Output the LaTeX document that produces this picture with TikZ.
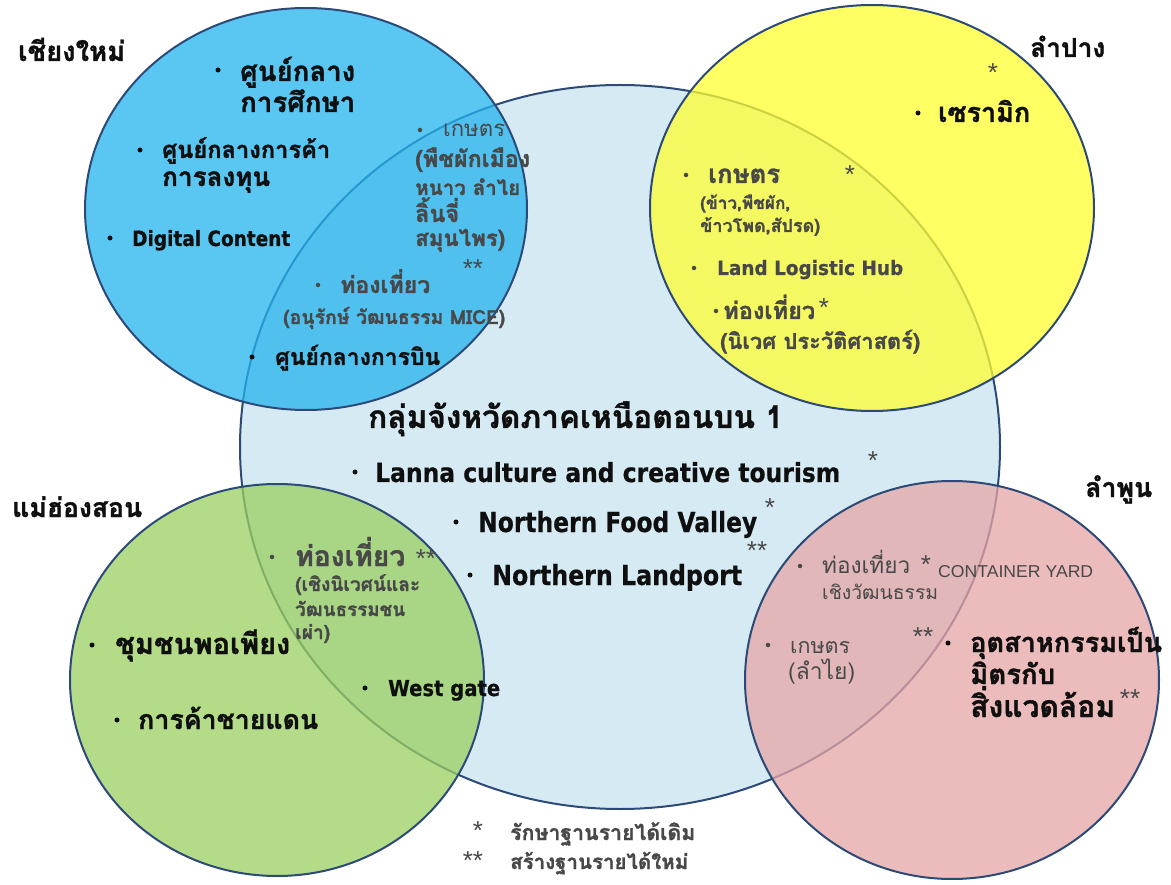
\documentclass[tikz,border=0pt]{standalone}
\usepackage{graphicx}
\usepackage{fontspec}
\newfontfamily\thai[Script=Thai, BoldFeatures={FakeBold=1.2}]{Loma}
\newfontfamily\eng[BoldFeatures={FakeBold=0.6}]{DejaVu Sans}
\newfontfamily\arial{Liberation Sans}
\definecolor{edge}{RGB}{44,74,120}
\definecolor{cfill}{RGB}{214,234,244}
\definecolor{bfill}{RGB}{36,179,238}
\definecolor{yfill}{RGB}{255,255,48}
\definecolor{gfill}{RGB}{155,208,96}
\definecolor{pfill}{RGB}{230,166,166}
\definecolor{tblack}{RGB}{15,15,15}
\definecolor{tgrey}{RGB}{72,72,72}
\newcommand\fw[2]{\resizebox{#1pt}{!}{#2}}
\newcommand\fwh[3]{\resizebox{#1pt}{#2pt}{#3}}
\tikzset{
  ring/.style={draw=edge, line width=2pt},
  outer/.style={ring, fill opacity=0.75, draw opacity=1},
  lab/.style={inner sep=0pt, anchor=base west, text=tblack},
  tb/.style={lab, font=\thai\bfseries},
  tg/.style={lab, font=\thai\bfseries, text=tgrey},
  tgr/.style={lab, font=\thai, text=tgrey},
  eb/.style={lab, font=\eng\bfseries},
  egr/.style={lab, font=\eng\bfseries, text=tgrey},
  bul/.style={circle, fill=tblack, inner sep=0pt, minimum size=5pt},
  gbul/.style={circle, fill=tgrey, inner sep=0pt, minimum size=4.5pt},
  star/.style={inner sep=0pt, anchor=north, text=tgrey, font=\arial\fontsize{26}{26}\selectfont}
}
\begin{document}
\begin{tikzpicture}[x=1pt,y=-1pt]
\useasboundingbox (0,0) rectangle (1171,885);
\fill[white] (0,0) rectangle (1171,885);
% circles
\coordinate (cc) at (620,447);
\coordinate (cb) at (306,209);
\coordinate (cy) at (872,208);
\coordinate (cg) at (277,680);
\coordinate (cp) at (952,680);
\draw[ring, fill=cfill] (cc) ellipse [x radius=380pt, y radius=362pt];
\draw[outer, fill=bfill] (cb) ellipse [x radius=221pt, y radius=201pt];
\draw[outer, fill=yfill] (cy) ellipse [x radius=222pt, y radius=203pt];
\draw[outer, fill=gfill] (cg) ellipse [x radius=207pt, y radius=196pt];
\draw[outer, fill=pfill] (cp) ellipse [x radius=207pt, y radius=199pt];

% ---- Chiang Mai
\node[tb] (cm) at (18,61) {\fw{107}{เชียงใหม่}};
\node[bul] (b1) at (218,70) {};
\node[tb] (t1a) at (240,81) {\fw{115}{ศูนย์กลาง}};
\node[tb] (t1b) at (240,112) {\fw{115}{การศึกษา}};
\node[bul] (b2) at (140,150) {};
\node[tb] (t2a) at (162,158) {\fw{168}{ศูนย์กลางการค้า}};
\node[tb] (t2b) at (162,186) {\fw{108}{การลงทุน}};
\node[bul] (b3) at (110,238) {};
\node[eb] (t3) at (132,246) {\fwh{158}{16}{Digital Content}};
\node[gbul] (b4) at (420,130) {};
\node[tgr] (t4a) at (443,137) {\fw{62}{เกษตร}};
\node[tg] (t4b) at (415,167) {\fw{115}{(พืชผักเมือง}};
\node[tg] (t4c) at (415,195) {\fw{105}{หนาว ลำไย}};
\node[tg] (t4d) at (415,222) {\fw{44}{ลิ้นจี่}};
\node[tg] (t4e) at (415,246) {\fw{90}{สมุนไพร)}};
\node[star] (s1) at (473,259) {**};
\node[gbul] (b5) at (318,285) {};
\node[tg] (t5a) at (340,293) {\fw{90}{ท่องเที่ยว}};
\node[tg] (t5b) at (283,324) {\fw{222}{(อนุรักษ์ วัฒนธรรม MICE)}};
\node[bul] (b6) at (252,357) {};
\node[tb] (t6) at (275,365) {\fw{165}{ศูนย์กลางการบิน}};

% ---- Lampang
\node[tb] (lp) at (1030,57) {\fw{75}{ลำปาง}};
\node[star] (s2) at (993,63) {*};
\node[bul] (b7) at (918,113) {};
\node[tb] (t7) at (938,122) {\fw{92}{เซรามิก}};
\node[gbul] (b8) at (686,175) {};
\node[tg] (t8a) at (708,183) {\fw{72}{เกษตร}};
\node[star] (s3) at (850,165) {*};
\node[tg] (t8b) at (700,209) {\fw{90}{(ข้าว,พืชผัก,}};
\node[tg] (t8c) at (700,232) {\fw{120}{ข้าวโพด,สัปรด)}};
\node[gbul] (b9) at (694,268) {};
\node[egr] (t9) at (717,275) {\fwh{186}{15}{Land Logistic Hub}};
\node[gbul] (b10) at (716,311) {};
\node[tg] (t10a) at (723,319) {\fw{92}{ท่องเที่ยว}};
\node[star] (s4) at (824,298) {*};
\node[tg] (t10b) at (720,349) {\fw{200}{(นิเวศ ประวัติศาสตร์)}};

% ---- centre
\node[tb] (ct) at (368,428) {\fw{415}{กลุ่มจังหวัดภาคเหนือตอนบน 1}};
\node[bul] (b11) at (355,472) {};
\node[eb] (t11) at (375,482) {\fwh{465}{20}{Lanna culture and creative tourism}};
\node[star] (s5) at (873,451) {*};
\node[bul] (b12) at (456,522) {};
\node[eb] (t12) at (478,532) {\fwh{279}{21}{Northern Food Valley}};
\node[star] (s6) at (770,498) {*};
\node[star] (s7) at (757,541) {**};
\node[bul] (b13) at (470,575) {};
\node[eb] (t13) at (492,585) {\fwh{250}{21}{Northern Landport}};

% ---- Mae Hong Son
\node[tb] (mh) at (12,517) {\fw{130}{แม่ฮ่องสอน}};
\node[gbul] (b14) at (272,557) {};
\node[tg] (t14a) at (295,566) {\fw{110}{ท่องเที่ยว}};
\node[star] (s8) at (426,549) {**};
\node[tg] (t14b) at (295,591) {\fw{125}{(เชิงนิเวศน์และ}};
\node[tg] (t14c) at (295,616) {\fw{110}{วัฒนธรรมชน}};
\node[tg] (t14d) at (295,639) {\fw{35}{เผ่า)}};
\node[bul] (b15) at (92,645) {};
\node[tb] (t15) at (115,654) {\fw{175}{ชุมชนพอเพียง}};
\node[bul] (b16) at (117,720) {};
\node[tb] (t16) at (138,729) {\fw{180}{การค้าชายแดน}};
\node[bul] (b17) at (365,688) {};
\node[eb] (t17) at (388,696) {\fwh{112}{16}{West gate}};

% ---- Lamphun
\node[tb] (lh) at (1085,497) {\fw{67}{ลำพูน}};
\node[gbul] (b18) at (800,566) {};
\node[tgr] (t18a) at (822,573) {\fw{88}{ท่องเที่ยว}};
\node[star] (s9) at (926,555) {*};
\node[lab, text=tgrey, font=\arial] (t18c) at (938,577) {\fwh{155}{12}{CONTAINER YARD}};
\node[tgr] (t18b) at (822,599) {\fw{116}{เชิงวัฒนธรรม}};
\node[star] (s10) at (923,627) {**};
\node[bul] (b19) at (948,643) {};
\node[tb] (t19a) at (970,652) {\fw{192}{อุตสาหกรรมเป็น}};
\node[tb] (t19b) at (970,684) {\fw{85}{มิตรกับ}};
\node[tb] (t19c) at (970,717) {\fw{145}{สิ่งแวดล้อม}};
\node[star] (s11) at (1130,689) {**};
\node[gbul] (b20) at (768,645) {};
\node[tgr] (t20a) at (790,653) {\fw{60}{เกษตร}};
\node[tgr] (t20b) at (788,679) {\fw{67}{(ลำไย)}};

% ---- legend
\node[star] (s12) at (478,821) {*};
\node[tg] (l1) at (510,840) {\fw{185}{รักษาฐานรายได้เดิม}};
\node[star] (s13) at (473,851) {**};
\node[tg] (l2) at (510,869) {\fw{178}{สร้างฐานรายได้ใหม่}};
\end{tikzpicture}
\end{document}
